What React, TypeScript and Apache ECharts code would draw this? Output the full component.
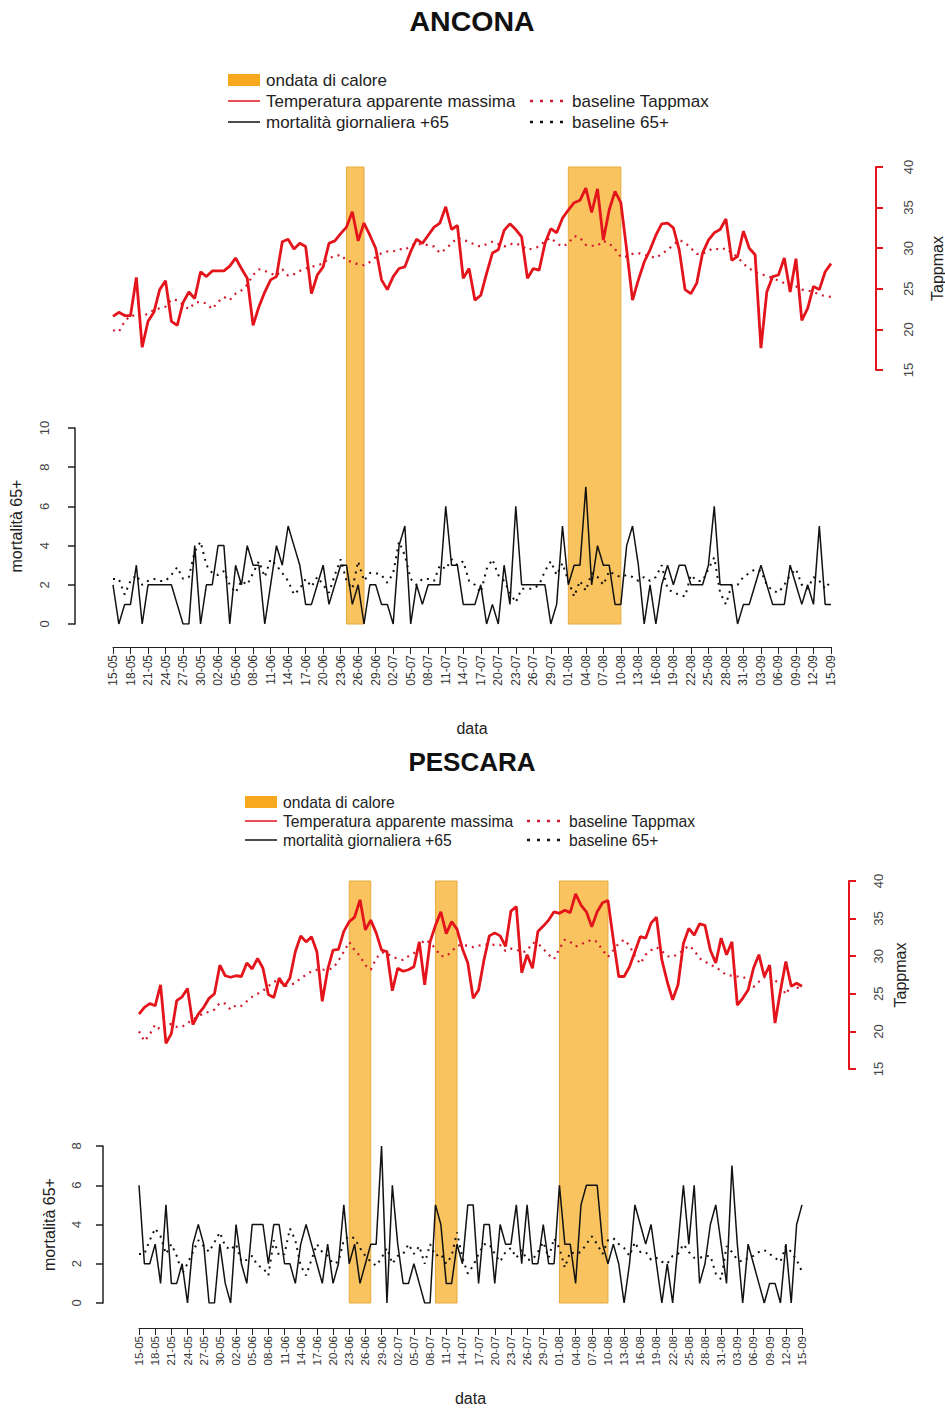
import React, { useEffect, useRef } from "react";
import * as echarts from "echarts";

const tickLabels = ["15-05","18-05","21-05","24-05","27-05","30-05","02-06","05-06","08-06","11-06","14-06","17-06","20-06","23-06","26-06","29-06","02-07","05-07","08-07","11-07","14-07","17-07","20-07","23-07","26-07","29-07","01-08","04-08","07-08","10-08","13-08","16-08","19-08","22-08","25-08","28-08","31-08","03-09","06-09","09-09","12-09","15-09"];

const anconaTemp = [21.6,22.1,21.7,21.7,26.4,17.8,21.0,22.1,24.9,26.0,21.0,20.5,23.3,24.6,23.8,27.1,26.5,27.2,27.2,27.2,27.8,28.8,27.5,26.3,20.5,22.8,24.6,26.1,26.5,30.8,31.1,29.9,30.6,30.2,24.4,26.7,27.7,30.6,30.9,31.8,32.6,34.5,30.9,33.1,31.6,30.0,26.1,24.9,26.5,27.5,27.7,29.6,31.1,30.6,31.6,32.6,33.1,35.1,32.3,32.8,26.3,27.5,23.6,24.2,26.9,29.4,29.8,32.2,33.0,32.3,31.4,26.3,27.5,27.3,30.6,32.4,31.9,33.7,34.7,35.6,35.9,37.4,34.4,37.3,31.0,34.7,37.0,35.6,29.8,23.6,26.1,28.3,29.8,31.6,33.0,33.1,32.5,29.8,24.9,24.4,25.7,29.4,31.0,31.9,32.3,33.6,28.5,29.0,32.1,30.0,29.2,17.7,24.6,26.5,26.7,28.8,24.6,28.7,21.1,22.6,25.3,24.9,27.1,28.1];
const anconaTempBase = [19.9,19.7,21.0,21.7,21.7,21.5,22.0,22.4,22.6,22.8,23.7,23.6,23.0,22.5,23.3,23.4,23.2,22.5,23.4,24.0,23.6,24.4,24.8,25.5,26.7,27.4,27.2,26.9,26.6,27.4,26.6,26.8,27.2,27.5,27.7,27.9,28.1,28.8,29.0,29.2,28.5,28.3,28.0,27.9,28.3,28.9,29.4,29.6,29.6,29.9,29.8,30.3,30.6,30.4,30.4,30.2,29.4,29.9,30.6,31.3,31.0,30.8,30.4,30.2,30.5,30.8,30.5,30.2,30.5,30.6,30.3,29.8,30.0,30.2,30.9,31.3,30.6,30.2,30.6,31.5,31.3,30.4,30.3,30.3,30.9,30.6,29.9,28.9,29.0,29.3,29.4,29.2,29.0,28.8,29.3,29.8,30.4,31.0,30.7,30.0,29.3,29.3,29.7,30.0,29.8,30.0,29.4,28.9,28.1,27.5,27.1,26.8,26.6,26.3,26.0,25.7,25.5,25.3,24.9,24.8,24.6,24.3,24.1,24.0];
const anconaMort = [2,0,1,1,3,0,2,2,2,2,2,1,0,0,4,0,2,2,4,4,0,3,2,4,3,3,0,2,4,3,5,4,3,1,1,2,3,1,2,3,3,1,2,0,2,2,1,1,0,4,5,0,2,1,2,2,2,6,3,3,1,1,1,2,0,1,0,3,1,6,2,2,2,2,2,0,1,5,2,3,3,7,2,4,3,3,1,1,4,5,3,0,2,0,2,3,2,3,3,2,2,2,3,6,2,2,2,0,1,1,2,3,2,1,1,1,3,2,1,2,1,5,1,1];
const anconaMortBase = [2.3,2.3,1.5,2.2,2.5,2.0,2.2,2.3,2.2,2.2,2.5,2.9,2.3,2.4,3.7,4.2,3.0,2.6,2.5,2.7,2.0,1.6,2.2,2.0,2.6,3.2,2.4,3.3,3.0,2.6,2.2,1.5,1.8,2.3,1.9,2.4,2.0,1.6,2.5,3.3,2.2,1.8,3.2,2.2,2.6,2.6,2.5,2.1,2.6,4.2,3.5,2.3,2.0,2.3,2.3,2.2,3.0,2.8,3.3,3.0,3.2,2.2,2.0,1.6,2.8,3.3,2.5,2.2,1.6,1.1,1.8,1.8,1.8,2.0,2.7,3.2,2.5,3.1,2.2,1.4,2.2,1.7,2.6,2.4,2.0,2.7,2.5,2.4,2.5,2.4,2.2,2.4,2.2,2.4,3.0,1.8,1.6,1.5,1.4,2.5,2.2,2.2,2.8,3.4,1.6,1.0,2.0,2.0,2.4,2.6,2.8,2.7,2.0,1.7,1.6,2.0,2.5,2.8,2.0,1.8,2.4,2.2,1.8,2.2];
const anconaWaves = [[40, 43], [78, 87]];

const pescaraTemp = [22.3,23.2,23.7,23.4,26.2,18.4,19.7,24.1,24.6,25.7,20.9,22.3,23.2,24.4,25.0,28.8,27.4,27.2,27.4,27.3,29.1,28.3,29.7,28.4,24.9,24.5,27.1,26.0,27.1,30.6,32.7,31.9,32.6,30.6,24.0,28.2,30.8,30.9,33.3,34.6,35.2,37.5,33.5,34.8,33.1,30.8,30.6,25.4,28.4,28.0,28.2,28.6,31.9,26.2,31.9,34.1,35.9,33.0,34.6,33.6,31.0,29.1,24.4,25.5,29.5,32.7,33.1,32.7,31.3,36.0,36.6,27.8,30.2,28.4,33.3,34.0,34.8,35.9,35.7,36.1,35.8,38.3,36.8,35.9,33.9,35.9,37.1,37.4,32.2,27.3,27.3,28.6,30.6,32.6,32.4,34.4,35.2,29.5,26.6,24.2,26.2,31.7,33.7,32.8,34.3,34.1,30.8,29.1,32.4,30.2,31.9,23.5,24.4,25.5,28.4,30.2,27.3,28.8,21.1,25.4,29.3,26.0,26.4,26.0];
const pescaraTempBase = [20.0,18.7,19.6,20.9,20.2,20.7,21.0,20.6,20.6,21.1,21.6,22.0,22.4,22.6,22.9,23.8,23.7,22.9,23.5,23.4,24.0,24.6,25.0,25.4,26.0,26.6,26.8,26.0,26.2,26.4,27.1,27.5,28.0,28.2,28.2,28.2,28.4,29.4,30.6,31.9,30.8,30.0,28.8,28.2,29.7,30.5,30.4,29.9,29.7,29.5,30.0,30.4,31.3,32.2,31.8,31.0,30.0,30.0,30.6,31.4,31.5,31.4,31.2,31.4,31.5,31.6,31.5,31.5,30.7,31.0,30.9,30.5,30.7,31.8,31.7,31.0,30.2,29.6,31.0,32.2,31.9,31.3,31.6,31.9,32.2,31.9,30.8,29.9,30.8,31.7,32.2,31.4,30.0,29.0,30.2,30.8,31.2,30.7,30.0,29.9,30.3,30.8,31.4,30.8,29.7,29.3,28.8,28.6,28.0,27.5,27.4,27.3,27.3,26.8,25.9,26.6,27.2,27.4,26.8,26.2,24.9,26.2,25.9,25.4];
const pescaraMort = [6,2,2,3,1,5,1,1,2,0,3,4,3,0,0,3,1,0,4,2,1,4,4,4,2,4,4,2,2,1,3,4,3,2,1,3,1,2,5,2,3,1,2,3,3,8,0,6,3,1,1,2,1,0,0,5,4,1,1,3,2,5,5,1,4,4,1,4,3,3,5,2,5,2,2,4,2,2,6,3,3,1,5,6,6,6,3,2,3,2,0,2,5,4,3,4,2,0,2,0,3,6,3,6,1,2,4,5,3,1,7,3,0,3,2,1,0,1,1,0,3,0,4,5];
const pescaraMortBase = [2.5,2.5,3.2,3.8,3.4,2.5,3.0,2.4,1.5,2.0,2.6,3.2,2.9,2.6,3.1,3.6,2.9,2.7,3.0,2.1,2.2,2.4,1.9,1.8,1.4,3.2,2.4,2.5,3.8,3.2,1.9,1.4,2.2,3.0,2.6,2.4,2.0,2.1,3.2,3.4,3.3,2.8,2.4,2.1,1.9,2.3,2.8,2.0,2.4,2.5,3.0,2.5,2.9,2.0,3.0,2.4,2.5,2.0,2.4,3.6,2.3,1.5,1.9,2.5,3.0,3.0,2.5,2.1,2.6,2.8,2.3,2.7,2.2,2.2,2.6,3.1,2.3,3.3,2.8,1.8,2.6,2.5,2.6,3.0,3.4,3.0,2.5,3.2,3.3,3.0,2.8,2.4,3.1,2.6,2.6,2.2,2.3,2.1,2.0,2.4,2.5,3.0,2.6,2.3,2.3,2.4,2.4,1.5,1.2,2.9,2.6,2.2,2.1,2.3,2.4,2.6,2.7,2.5,2.3,2.1,2.9,2.6,2.2,1.6];
const pescaraWaves = [[39, 43], [55, 59], [78, 87]];

const RED = "#e3141b";
const RED_BASE = "#d21a2c";
const BAND = "#f9c45f";
const LEGEND_ORANGE = "#f7a81e";

type PanelCfg = {
  title: string; titleY: number; titleSize: number;
  legendX: number; legendY: number; legendGap: number; legendFont: number; legendX2: number;
  left: number; width: number;
  tempTop: number; tempH: number; mortTop: number; mortH: number; mortMax: number;
  rightOff: number; leftOff: number; xOff: number;
  rightMargin: number; leftMargin: number;
  rightNameGap: number; leftNameGap: number; xNameGap: number; xFont: number;
  temp: number[]; tempBase: number[]; mort: number[]; mortBase: number[]; waves: number[][];
};

const panels: PanelCfg[] = [
  {
    title: "ANCONA", titleY: 21, titleSize: 28.5,
    legendX: 228, legendY: 80, legendGap: 21, legendFont: 17, legendX2: 530,
    left: 113, width: 718,
    tempTop: 167, tempH: 203, mortTop: 428, mortH: 196, mortMax: 10,
    rightOff: 45, leftOff: 38, xOff: 23,
    rightMargin: 26, leftMargin: 24,
    rightNameGap: 53, leftNameGap: 51, xNameGap: 73, xFont: 12,
    temp: anconaTemp, tempBase: anconaTempBase, mort: anconaMort, mortBase: anconaMortBase, waves: anconaWaves,
  },
  {
    title: "PESCARA", titleY: 762, titleSize: 26,
    legendX: 245, legendY: 802, legendGap: 19, legendFont: 15.7, legendX2: 527,
    left: 139, width: 663,
    tempTop: 881, tempH: 188, mortTop: 1146, mortH: 157, mortMax: 8,
    rightOff: 47, leftOff: 36, xOff: 25,
    rightMargin: 23, leftMargin: 20,
    rightNameGap: 43, leftNameGap: 46, xNameGap: 62, xFont: 11.5,
    temp: pescaraTemp, tempBase: pescaraTempBase, mort: pescaraMort, mortBase: pescaraMortBase, waves: pescaraWaves,
  },
];

function buildOption() {
  const grid: any[] = [];
  const xAxis: any[] = [];
  const yAxis: any[] = [];
  const series: any[] = [];
  const graphic: any[] = [];
  const font = "Liberation Sans, Arial, sans-serif";
  const g0 = { containLabel: false, outerBoundsMode: "none" };

  panels.forEach((p) => {
    const gTemp = grid.length;
    grid.push({ ...g0, left: p.left, top: p.tempTop, width: p.width, height: p.tempH });
    const gMort = grid.length;
    grid.push({ ...g0, left: p.left, top: p.mortTop, width: p.width, height: p.mortH });
    const gBand = grid.length;
    grid.push({ ...g0, left: p.left, top: p.tempTop, width: p.width, height: p.mortTop + p.mortH - p.tempTop });

    const xTemp = xAxis.length;
    xAxis.push({ gridIndex: gTemp, type: "value", min: 0, max: 123, show: false });
    const xMort = xAxis.length;
    xAxis.push({
      gridIndex: gMort, type: "value", min: 0, max: 123, interval: 3, position: "bottom", offset: p.xOff,
      axisLine: { show: true, onZero: false, lineStyle: { color: "#222", width: 1 } },
      axisTick: { show: true, length: 7, lineStyle: { color: "#222", width: 1 } },
      axisLabel: {
        rotate: 90, fontSize: p.xFont, color: "#333", fontFamily: font, margin: 8, showMinLabel: true, showMaxLabel: true,
        formatter: (v: number) => tickLabels[Math.round(v / 3)] ?? "",
      },
      splitLine: { show: false },
      name: "data", nameLocation: "middle", nameGap: p.xNameGap,
      nameTextStyle: { fontSize: 16, color: "#222", fontFamily: font },
    });
    const xBand = xAxis.length;
    xAxis.push({ gridIndex: gBand, type: "value", min: 0, max: 123, show: false });

    const yTemp = yAxis.length;
    yAxis.push({
      gridIndex: gTemp, type: "value", min: 15, max: 40, interval: 5, position: "right", offset: p.rightOff,
      axisLine: { show: true, onZero: false, lineStyle: { color: RED, width: 2 } },
      axisTick: { show: true, length: 7, lineStyle: { color: RED, width: 2 } },
      axisLabel: { rotate: 90, fontSize: 13, color: "#444", fontFamily: font, margin: p.rightMargin },
      splitLine: { show: false },
      name: "Tappmax", nameLocation: "middle", nameGap: p.rightNameGap, nameRotate: 90,
      nameTextStyle: { fontSize: 16, color: "#222", fontFamily: font },
    });
    const yMort = yAxis.length;
    yAxis.push({
      gridIndex: gMort, type: "value", min: 0, max: p.mortMax, interval: 2, position: "left", offset: p.leftOff,
      axisLine: { show: true, onZero: false, lineStyle: { color: "#222", width: 1.5 } },
      axisTick: { show: true, length: 7, lineStyle: { color: "#222", width: 1.5 } },
      axisLabel: { rotate: 90, fontSize: 13, color: "#444", fontFamily: font, margin: p.leftMargin },
      splitLine: { show: false },
      name: "mortalità 65+", nameLocation: "middle", nameGap: p.leftNameGap, nameRotate: 90,
      nameTextStyle: { fontSize: 16, color: "#222", fontFamily: font },
    });
    const yBand = yAxis.length;
    yAxis.push({ gridIndex: gBand, type: "value", min: 0, max: 1, show: false });

    series.push({
      type: "line", xAxisIndex: xBand, yAxisIndex: yBand, data: [], silent: true, z: 1,
      markArea: {
        silent: true,
        itemStyle: { color: BAND, borderColor: "#e6ab3e", borderWidth: 1 },
        data: p.waves.map(([a, b]) => [{ xAxis: a }, { xAxis: b }]),
      },
    });
    series.push({
      type: "line", xAxisIndex: xTemp, yAxisIndex: yTemp, showSymbol: false, z: 4,
      data: p.tempBase.map((v, i) => [i, v]),
      lineStyle: { color: RED_BASE, width: 2.2, type: [2, 5] },
    });
    series.push({
      type: "line", xAxisIndex: xTemp, yAxisIndex: yTemp, showSymbol: false, z: 5,
      data: p.temp.map((v, i) => [i, v]),
      lineStyle: { color: RED, width: 2.8 },
    });
    series.push({
      type: "line", xAxisIndex: xMort, yAxisIndex: yMort, showSymbol: false, z: 4,
      data: p.mortBase.map((v, i) => [i, v]),
      lineStyle: { color: "#111", width: 2, type: [2, 5] },
    });
    series.push({
      type: "line", xAxisIndex: xMort, yAxisIndex: yMort, showSymbol: false, z: 5,
      data: p.mort.map((v, i) => [i, v]),
      lineStyle: { color: "#111", width: 1.5 },
    });

    graphic.push({
      type: "text", x: 472, y: p.titleY,
      style: { text: p.title, fontSize: p.titleSize, fontWeight: "bold", fill: "#111", fontFamily: font, textAlign: "center", textVerticalAlign: "middle" },
    });
    const lx = p.legendX, ly = p.legendY, g = p.legendGap, lf = p.legendFont;
    const tx = lx + 38, tx2 = p.legendX2 + 42;
    const tstyle = (t: string, x: number, y: number) => ({
      type: "text", x, y,
      style: { text: t, fontSize: lf, fill: "#222", fontFamily: font, textVerticalAlign: "middle" },
    });
    graphic.push({ type: "rect", shape: { x: lx, y: ly - 6, width: 32, height: 12 }, style: { fill: LEGEND_ORANGE } });
    graphic.push(tstyle("ondata di calore", tx, ly));
    graphic.push({ type: "line", shape: { x1: lx, y1: ly + g, x2: lx + 32, y2: ly + g }, style: { stroke: RED, lineWidth: 1.5 } });
    graphic.push(tstyle("Temperatura apparente massima", tx, ly + g));
    graphic.push({ type: "line", shape: { x1: lx, y1: ly + 2 * g, x2: lx + 32, y2: ly + 2 * g }, style: { stroke: "#111", lineWidth: 1.5 } });
    graphic.push(tstyle("mortalità giornaliera +65", tx, ly + 2 * g));
    graphic.push({ type: "line", shape: { x1: p.legendX2, y1: ly + g, x2: p.legendX2 + 34, y2: ly + g }, style: { stroke: RED_BASE, lineWidth: 2.5, lineDash: [3, 7] } });
    graphic.push(tstyle("baseline Tappmax", tx2, ly + g));
    graphic.push({ type: "line", shape: { x1: p.legendX2, y1: ly + 2 * g, x2: p.legendX2 + 34, y2: ly + 2 * g }, style: { stroke: "#111", lineWidth: 2.5, lineDash: [3, 7] } });
    graphic.push(tstyle("baseline 65+", tx2, ly + 2 * g));
  });

  return {
    animation: false,
    backgroundColor: "#ffffff",
    grid, xAxis, yAxis, series, graphic,
  };
}

export default function App() {
  const ref = useRef<HTMLDivElement>(null);
  useEffect(() => {
    document.body.style.margin = "0";
    if (!ref.current) return;
    const chart = echarts.init(ref.current, undefined, { renderer: "svg" });
    chart.setOption(buildOption() as any);
    return () => chart.dispose();
  }, []);
  return <div ref={ref} style={{ width: 945, height: 1409 }} />;
}
